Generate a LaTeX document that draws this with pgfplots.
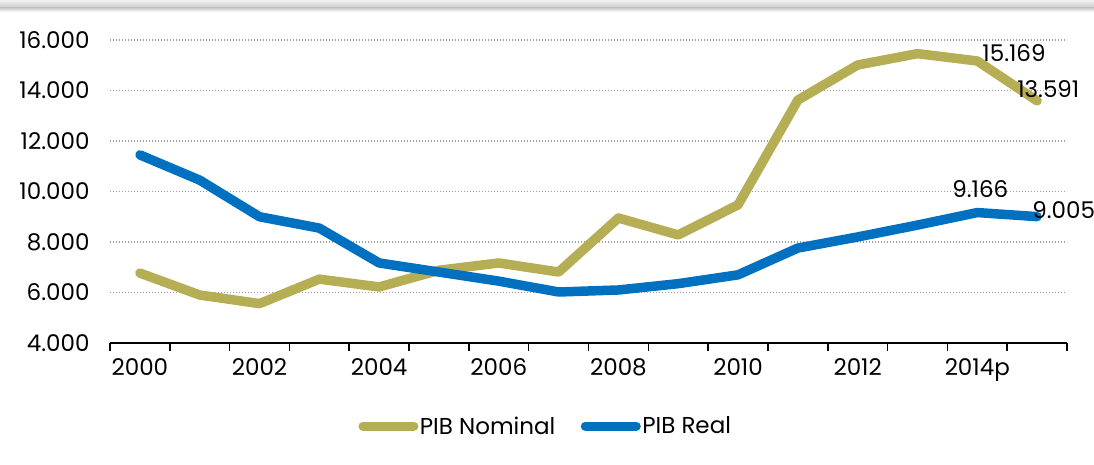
\documentclass[border=0pt]{standalone}
\usepackage{pgfplots}
\pgfplotsset{compat=1.18}
\usepackage{fontspec}
\setmainfont{Poppins}
\definecolor{pibnom}{RGB}{182,174,84}
\definecolor{pibreal}{RGB}{0,112,192}
\begin{document}
\begin{tikzpicture}[x=1pt,y=1pt]
\useasboundingbox (0,0) rectangle (1094,464);
\shade[top color=gray!12, bottom color=gray!40] (0,456) rectangle (1094,464);
\shade[top color=gray!40, bottom color=white] (0,452) rectangle (1094,456);
\begin{axis}[
  at={(110pt,121pt)}, anchor=south west,
  scale only axis, width=957pt, height=303pt,
  xmin=-0.5, xmax=15.5, ymin=4000, ymax=16000,
  axis x line*=bottom, axis y line*=left,
  x axis line style={black, line width=1.6pt},
  y axis line style={draw=none},
  xtick={0,2,...,14},
  xticklabels={2000,2002,2004,2006,2008,2010,2012,2014p},
  minor xtick={-0.5,0.5,...,15.5},
  major tick length=0pt, minor tick length=8pt,
  tick align=outside,
  every minor tick/.style={black, line width=1.6pt},
  ytick={4000,6000,...,16000},
  scaled y ticks=false,
  yticklabel={\pgfmathprintnumber[fixed,precision=0,1000 sep={.},assume math mode=true]{\tick}},
  ymajorgrids,
  grid style={gray!75, dash pattern=on 1.3pt off 1.7pt, line width=1.4pt},
  ticklabel style={font=\fontsize{23}{25}\selectfont},
  yticklabel style={xshift=-17pt},
  xticklabel style={yshift=-12pt},
  clip=false,
  legend style={draw=none, fill=none, at={(0.455,-0.274)}, anchor=center,
    legend columns=2, font=\fontsize{23}{25}\selectfont,
    /tikz/every even column/.append style={column sep=24pt},
    nodes={inner sep=1.5pt}},
  legend image code/.code={\draw[#1, line width=9pt, line cap=round] (4.5pt,0pt) -- (55.5pt,0pt);},
]
\addplot[pibnom, line width=9.5pt, line join=round, line cap=round] coordinates {
(0,6770) (1,5900) (2,5560) (3,6530) (4,6220) (5,6880) (6,7170) (7,6810)
(8,8950) (9,8280) (10,9470) (11,13620) (12,15010) (13,15460) (14,15169) (15,13591)};
\addlegendentry{PIB Nominal}
\addplot[pibreal, line width=9.5pt, line join=round, line cap=round] coordinates {
(0,11450) (1,10450) (2,9000) (3,8550) (4,7170) (5,6810) (6,6450) (7,6020)
(8,6100) (9,6350) (10,6700) (11,7760) (12,8200) (13,8670) (14,9166) (15,9005)};
\addlegendentry{PIB Real}
\node[anchor=west, inner sep=0pt, xshift=5pt, yshift=8pt, font=\fontsize{23}{25}\selectfont] at (axis cs:14,15169) {15.169};
\node[anchor=west, inner sep=0pt, xshift=-20pt, yshift=12pt, font=\fontsize{23}{25}\selectfont] at (axis cs:15,13591) {13.591};
\node[anchor=south, inner sep=0pt, xshift=3pt, yshift=15pt, font=\fontsize{23}{25}\selectfont] at (axis cs:14,9166) {9.166};
\node[anchor=west, inner sep=0pt, xshift=-5pt, yshift=7pt, font=\fontsize{23}{25}\selectfont] at (axis cs:15,9005) {9.005};
\end{axis}
\end{tikzpicture}
\end{document}
